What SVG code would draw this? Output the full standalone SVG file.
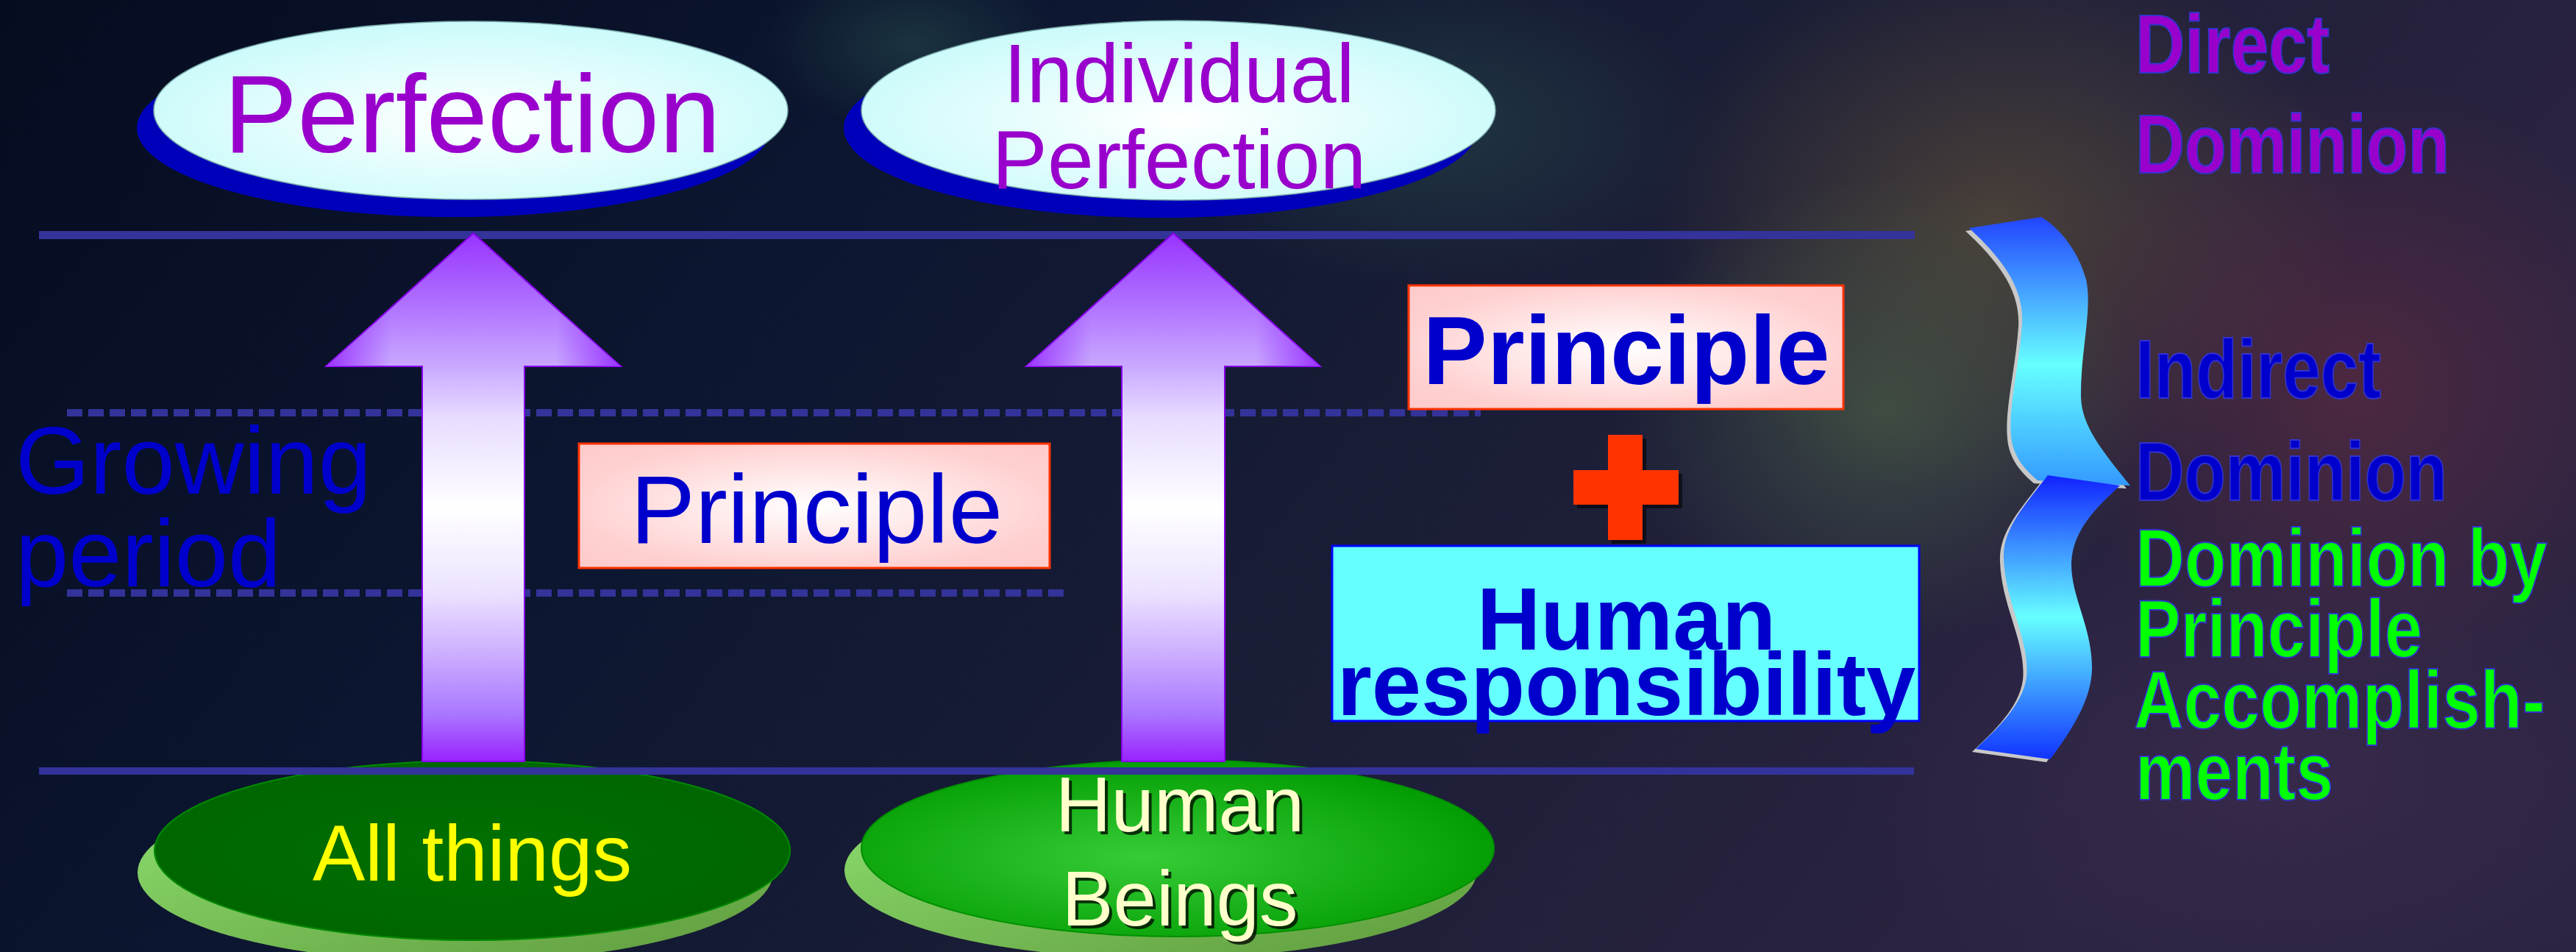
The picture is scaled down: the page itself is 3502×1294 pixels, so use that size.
<svg xmlns="http://www.w3.org/2000/svg" width="3502" height="1294" viewBox="0 0 3502 1294">
<defs>
<linearGradient id="bg" x1="0" y1="0" x2="1" y2="0.3">
<stop offset="0" stop-color="#060c20"/>
<stop offset="0.35" stop-color="#0c1630"/>
<stop offset="0.65" stop-color="#1a1d36"/>
<stop offset="1" stop-color="#2c2442"/>
</linearGradient>
<radialGradient id="glowWarm"><stop offset="0" stop-color="#6a5a38" stop-opacity="0.55"/><stop offset="1" stop-color="#6a5a38" stop-opacity="0"/></radialGradient>
<radialGradient id="glowGreen"><stop offset="0" stop-color="#506a48" stop-opacity="0.55"/><stop offset="1" stop-color="#506a48" stop-opacity="0"/></radialGradient>
<radialGradient id="glowRed"><stop offset="0" stop-color="#6a2c40" stop-opacity="0.55"/><stop offset="1" stop-color="#6a2c40" stop-opacity="0"/></radialGradient>
<radialGradient id="glowTeal"><stop offset="0" stop-color="#2a5050" stop-opacity="0.5"/><stop offset="1" stop-color="#2a5050" stop-opacity="0"/></radialGradient>
<radialGradient id="glowPurple"><stop offset="0" stop-color="#3e2c50" stop-opacity="0.6"/><stop offset="1" stop-color="#3e2c50" stop-opacity="0"/></radialGradient>
<radialGradient id="cyanFill" cx="0.5" cy="0.55" r="0.6"><stop offset="0" stop-color="#ffffff"/><stop offset="1" stop-color="#c6fafa"/></radialGradient>
<radialGradient id="pinkFill" cx="0.5" cy="0.5" r="0.65"><stop offset="0" stop-color="#ffffff"/><stop offset="0.8" stop-color="#ffd0d0"/><stop offset="1" stop-color="#ffcccc"/></radialGradient>
<radialGradient id="greenBright" cx="0.45" cy="0.55" r="0.6"><stop offset="0" stop-color="#36cc36"/><stop offset="1" stop-color="#009a00"/></radialGradient>
<radialGradient id="greenDark" cx="0.5" cy="0.5" r="0.6"><stop offset="0" stop-color="#007000"/><stop offset="1" stop-color="#006400"/></radialGradient>
<linearGradient id="greenShadow" x1="0" y1="0" x2="1" y2="1"><stop offset="0" stop-color="#8ee070"/><stop offset="1" stop-color="#5f9a3c"/></linearGradient>
<linearGradient id="arrowV" gradientUnits="userSpaceOnUse" x1="0" y1="317" x2="0" y2="1035">
<stop offset="0" stop-color="#9933ff"/>
<stop offset="0.11" stop-color="#aa66ff"/>
<stop offset="0.25" stop-color="#c8a8ff"/>
<stop offset="0.35" stop-color="#e8dcff"/>
<stop offset="0.52" stop-color="#ffffff"/>
<stop offset="0.68" stop-color="#ece2ff"/>
<stop offset="0.81" stop-color="#c8a8ff"/>
<stop offset="0.91" stop-color="#aa77ff"/>
<stop offset="1" stop-color="#9922ff"/>
</linearGradient>
<linearGradient id="headH" x1="0" y1="0" x2="1" y2="0">
<stop offset="0" stop-color="#9933ff" stop-opacity="1"/>
<stop offset="0.22" stop-color="#9933ff" stop-opacity="0"/>
<stop offset="0.78" stop-color="#9933ff" stop-opacity="0"/>
<stop offset="1" stop-color="#9933ff" stop-opacity="1"/>
</linearGradient>
<linearGradient id="braceUp" gradientUnits="userSpaceOnUse" x1="0" y1="295" x2="0" y2="660">
<stop offset="0" stop-color="#2244ff"/>
<stop offset="0.55" stop-color="#66ffff"/>
<stop offset="1" stop-color="#3399ff"/>
</linearGradient>
<linearGradient id="braceLow" gradientUnits="userSpaceOnUse" x1="0" y1="646" x2="0" y2="1032">
<stop offset="0" stop-color="#1122ff"/>
<stop offset="0.5" stop-color="#66ffff"/>
<stop offset="1" stop-color="#1133ff"/>
</linearGradient>
</defs>
<style>
text{font-family:"Liberation Sans",Arial,"Helvetica",sans-serif}
.div{fill:#333399}
.dash{stroke:#333399;stroke-width:10;stroke-dasharray:21 8;fill:none}
.arrow{fill:url(#arrowV);stroke:#8800ee;stroke-width:2}
.head{fill:url(#headH);stroke:none}
.purple{fill:#9900cc}
.blue{fill:#0000cc}
.bold{font-weight:bold}
.side{font-weight:bold;stroke:#3333cc;stroke-width:2}
</style>

<!-- background -->
<rect x="0" y="0" width="3502" height="1294" fill="url(#bg)"/>
<ellipse cx="2720" cy="300" rx="480" ry="380" fill="url(#glowWarm)"/>
<ellipse cx="2560" cy="560" rx="360" ry="320" fill="url(#glowGreen)"/>
<ellipse cx="3200" cy="520" rx="420" ry="420" fill="url(#glowRed)"/>
<ellipse cx="1950" cy="170" rx="380" ry="220" fill="url(#glowTeal)"/>
<ellipse cx="3100" cy="1050" rx="600" ry="350" fill="url(#glowPurple)"/>
<ellipse cx="1240" cy="60" rx="200" ry="120" fill="url(#glowTeal)"/>

<!-- division lines -->
<g id="dividers">
<rect class="div" x="53" y="314" width="2550" height="11"/>
<line class="dash" x1="91" y1="561" x2="2013" y2="561"/>
<line class="dash" x1="91" y1="806" x2="1447" y2="806"/>
</g>

<!-- bottom nodes -->
<g id="node-all-things">
<ellipse cx="619" cy="1186" rx="432" ry="122" fill="url(#greenShadow)"/>
<ellipse cx="642" cy="1156" rx="432" ry="122" fill="url(#greenDark)" stroke="#008a00" stroke-width="2"/>
<text x="642" y="1197" font-size="107" fill="#ffff00" text-anchor="middle">All things</text>
</g>
<g id="node-human-beings">
<ellipse cx="1578" cy="1183" rx="430" ry="120" fill="url(#greenShadow)"/>
<ellipse cx="1601" cy="1153" rx="430" ry="120" fill="url(#greenBright)" stroke="#009000" stroke-width="2"/>
<text x="1608" y="1134" font-size="105" fill="#000000" fill-opacity="0.75" text-anchor="middle">Human</text>
<text x="1604" y="1130" font-size="105" fill="#ffffcc" text-anchor="middle">Human</text>
<text x="1608" y="1262" font-size="105" fill="#000000" fill-opacity="0.75" text-anchor="middle">Beings</text>
<text x="1604" y="1258" font-size="105" fill="#ffffcc" text-anchor="middle">Beings</text>
</g>

<rect class="div" x="53" y="1043" width="2549" height="10"/>

<!-- top nodes -->
<g id="node-perfection">
<ellipse cx="617" cy="174" rx="431" ry="121" fill="#0000bb"/>
<ellipse cx="640" cy="150" rx="431" ry="121" fill="url(#cyanFill)" stroke="#7aaaaa" stroke-width="1.5"/>
<text x="642" y="207" font-size="150" class="purple" text-anchor="middle">Perfection</text>
</g>
<g id="node-individual-perfection">
<ellipse cx="1578" cy="174" rx="431" ry="122" fill="#0000bb"/>
<ellipse cx="1602" cy="150" rx="431" ry="122" fill="url(#cyanFill)" stroke="#7aaaaa" stroke-width="1.5"/>
<text x="1603" y="139" font-size="113" class="purple" text-anchor="middle">Individual</text>
<text x="1603" y="256" font-size="113" class="purple" text-anchor="middle">Perfection</text>
</g>

<!-- connectors: growth arrows -->
<g id="connectors">
<g id="arrow-all-things">
<polygon class="arrow" points="643.5,317 844,498 713,498 713,1035 574,1035 574,498 443,498"/>
<polygon class="head" points="643.5,317 844,498 443,498"/>
</g>
<g id="arrow-human-beings">
<polygon class="arrow" points="1595,317 1795,498 1665,498 1665,1035 1525,1035 1525,498 1395,498"/>
<polygon class="head" points="1595,317 1795,498 1395,498"/>
</g>
</g>

<g id="label-growing-period">
<text x="21" y="671" font-size="130" class="blue">Growing</text>
<text x="21" y="797" font-size="130" class="blue">period</text>
</g>

<g id="node-principle-left">
<rect x="787" y="603" width="640" height="169" fill="url(#pinkFill)" stroke="#ff3300" stroke-width="3"/>
<text x="1110" y="738" font-size="132" class="blue" text-anchor="middle">Principle</text>
</g>

<g id="node-principle-right">
<rect x="1915" y="388" width="591" height="168" fill="url(#pinkFill)" stroke="#ff3300" stroke-width="3"/>
<text x="2211" y="522" font-size="131" class="blue bold" text-anchor="middle">Principle</text>
</g>

<g id="node-plus">
<path d="M2191,596 h47 v48 h49 v47 h-49 v48 h-47 v-48 h-47 v-47 h47 z" fill="#000000" fill-opacity="0.55"/>
<path d="M2186,591 h47 v48 h49 v47 h-49 v48 h-47 v-48 h-47 v-47 h47 z" fill="#ff3300"/>
</g>

<g id="node-human-responsibility">
<rect x="1811" y="742" width="798" height="238" fill="#66ffff" stroke="#0000ff" stroke-width="3"/>
<text x="2211" y="883" font-size="120" class="blue bold" text-anchor="middle">Human</text>
<text x="2211" y="972" font-size="121" class="blue bold" text-anchor="middle">responsibility</text>
</g>

<g id="brace">
<g transform="translate(-5,4)" fill="#c8c8c8">
<path d="M2677,310 C2720,350 2752,390 2749,440 C2745,500 2728,560 2735,600 C2740,625 2755,640 2770,653 L2896,660 C2860,615 2830,580 2829,540 C2828,480 2845,420 2836,380 C2825,340 2800,310 2775,295 Z"/>
<path d="M2784,646 C2750,690 2722,720 2724,760 C2726,820 2760,870 2755,920 C2750,960 2710,995 2686,1018 L2787,1032 C2815,995 2845,950 2844,905 C2843,850 2815,810 2816,765 C2818,720 2850,690 2882,660 Z"/>
</g>
<path d="M2677,310 C2720,350 2752,390 2749,440 C2745,500 2728,560 2735,600 C2740,625 2755,640 2770,653 L2896,660 C2860,615 2830,580 2829,540 C2828,480 2845,420 2836,380 C2825,340 2800,310 2775,295 Z" fill="url(#braceUp)"/>
<path d="M2784,646 C2750,690 2722,720 2724,760 C2726,820 2760,870 2755,920 C2750,960 2710,995 2686,1018 L2787,1032 C2815,995 2845,950 2844,905 C2843,850 2815,810 2816,765 C2818,720 2850,690 2882,660 Z" fill="url(#braceLow)"/>
</g>

<g id="label-direct-dominion">
<text x="2903" y="99" font-size="114" class="side" fill="#9900cc" textLength="264" lengthAdjust="spacingAndGlyphs">Direct</text>
<text x="2903" y="235" font-size="114" class="side" fill="#9900cc" textLength="427" lengthAdjust="spacingAndGlyphs">Dominion</text>
</g>
<g id="label-indirect-dominion">
<text x="2903" y="541" font-size="114" class="side" fill="#0000cc" textLength="334" lengthAdjust="spacingAndGlyphs">Indirect</text>
<text x="2903" y="680" font-size="114" class="side" fill="#0000cc" textLength="424" lengthAdjust="spacingAndGlyphs">Dominion</text>
</g>
<g id="label-dominion-by-principle">
<text x="2903" y="797" font-size="112" class="side" fill="#00ff00" textLength="560" lengthAdjust="spacingAndGlyphs">Dominion by</text>
<text x="2903" y="893" font-size="112" class="side" fill="#00ff00" textLength="390" lengthAdjust="spacingAndGlyphs">Principle</text>
<text x="2901" y="990" font-size="112" class="side" fill="#00ff00" textLength="559" lengthAdjust="spacingAndGlyphs">Accomplish-</text>
<text x="2903" y="1087" font-size="112" class="side" fill="#00ff00" textLength="269" lengthAdjust="spacingAndGlyphs">ments</text>
</g>
</svg>
